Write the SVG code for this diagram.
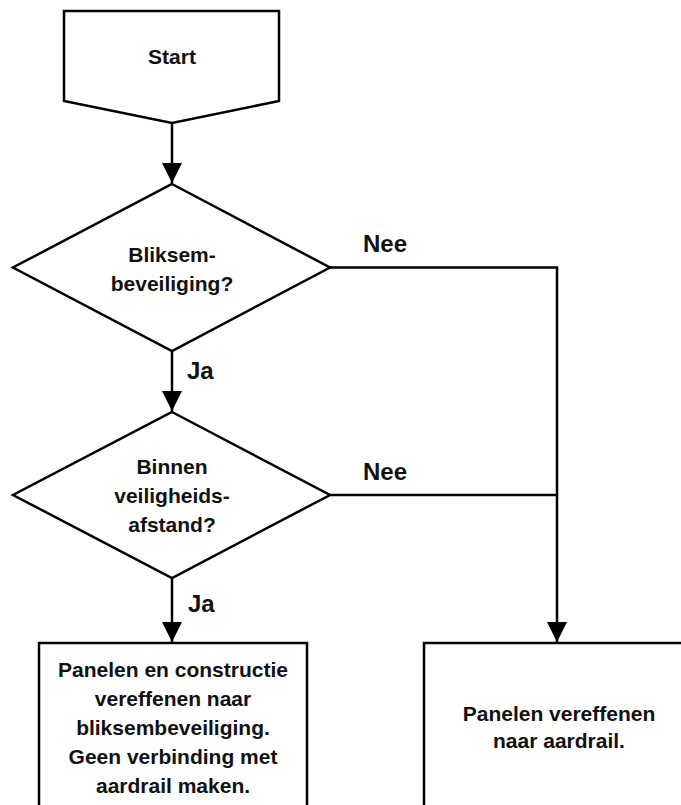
<svg xmlns="http://www.w3.org/2000/svg" width="681" height="805" viewBox="0 0 681 805">
<defs>
<marker id="arr" markerWidth="20" markerHeight="20" viewBox="0 0 20 20" refX="20" refY="10" orient="auto" markerUnits="userSpaceOnUse">
<path d="M0,0 L20,10 L0,20 Z" fill="#000"/>
</marker>
<style>
.shape{fill:#fff;stroke:#000;stroke-width:2.5}
.line{fill:none;stroke:#000;stroke-width:2.5}
.t{font-family:"Liberation Sans",Arial,sans-serif;font-weight:bold;font-size:21px;fill:#111;text-anchor:middle}
.lbl{font-family:"Liberation Sans",Arial,sans-serif;font-weight:bold;font-size:24px;fill:#111}
</style>
</defs>
<rect width="681" height="805" fill="#fff"/>
<g id="connectors">
<path class="line" d="M172,123 V183" marker-end="url(#arr)"/>
<path class="line" d="M172,351 V411" marker-end="url(#arr)"/>
<path class="line" d="M172,578 V642" marker-end="url(#arr)"/>
<path class="line" d="M330,267.5 H557 V642" marker-end="url(#arr)"/>
<path class="line" d="M330,495 H557"/>
<text class="lbl" x="363" y="252">Nee</text>
<text class="lbl" x="363" y="480">Nee</text>
<text class="lbl" x="187" y="379">Ja</text>
<text class="lbl" x="188" y="612">Ja</text>
</g>
<g id="start">
<path class="shape" d="M64,11 H279 V101 L172,123 L64,101 Z"/>
<text class="t" x="172" y="64">Start</text>
</g>
<g id="decision1">
<path class="shape" d="M172,184 L330,267.5 L172,351 L13,267.5 Z"/>
<text class="t" x="172" y="262">Bliksem-</text>
<text class="t" x="172" y="291">beveiliging?</text>
</g>
<g id="decision2">
<path class="shape" d="M172,412 L330,495 L172,578 L13,495 Z"/>
<text class="t" x="172" y="474">Binnen</text>
<text class="t" x="172" y="503">veiligheids-</text>
<text class="t" x="172" y="532">afstand?</text>
</g>
<g id="box1">
<rect class="shape" x="39" y="643" width="268" height="180"/>
<text class="t" x="173" y="677">Panelen en constructie</text>
<text class="t" x="173" y="706">vereffenen naar</text>
<text class="t" x="173" y="735">bliksembeveiliging.</text>
<text class="t" x="173" y="764">Geen verbinding met</text>
<text class="t" x="173" y="793">aardrail maken.</text>
</g>
<g id="box2">
<rect class="shape" x="424" y="643" width="270" height="180"/>
<text class="t" x="559" y="721">Panelen vereffenen</text>
<text class="t" x="559" y="748">naar aardrail.</text>
</g>
</svg>
